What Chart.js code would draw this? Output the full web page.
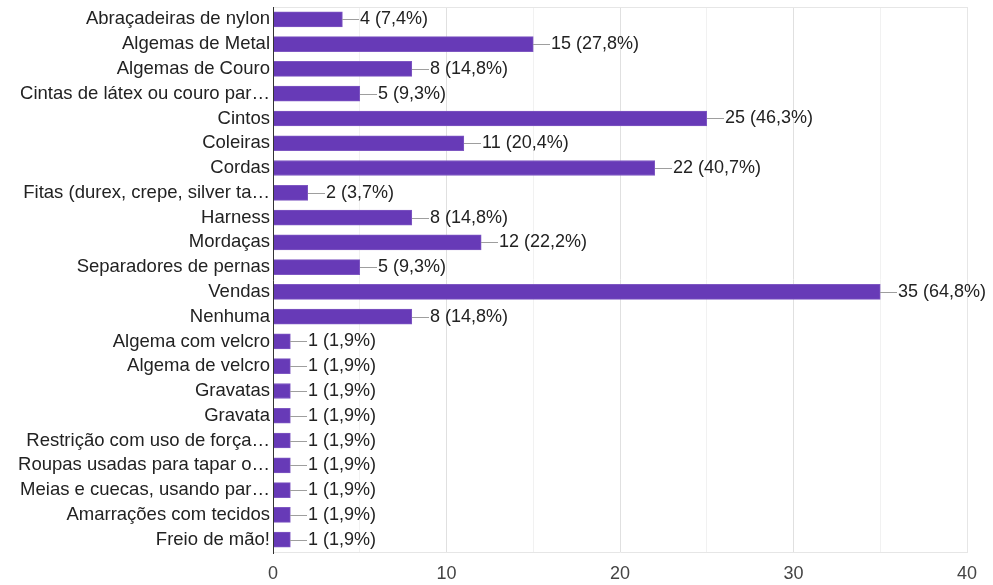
<!DOCTYPE html>
<html>
<head>
<meta charset="utf-8">
<script src="https://cdn.jsdelivr.net/npm/chart.js@4"></script>
<style>
  html, body { margin: 0; padding: 0; background: #fff; }
  #wrap { width: 993px; height: 585px; }
</style>
</head>
<body>
<div id="wrap"><canvas id="c" width="993" height="585"></canvas></div>
<script>
// Answers to the multiple-choice question
const categories = [
  "Abraçadeiras de nylon",
  "Algemas de Metal",
  "Algemas de Couro",
  "Cintas de látex ou couro par…",
  "Cintos",
  "Coleiras",
  "Cordas",
  "Fitas (durex, crepe, silver ta…",
  "Harness",
  "Mordaças",
  "Separadores de pernas",
  "Vendas",
  "Nenhuma",
  "Algema com velcro",
  "Algema de velcro",
  "Gravatas",
  "Gravata",
  "Restrição com uso de força…",
  "Roupas usadas para tapar o…",
  "Meias e cuecas, usando par…",
  "Amarrações com tecidos",
  "Freio de mão!"
];
const counts = [4, 15, 8, 5, 25, 11, 22, 2, 8, 12, 5, 35, 8, 1, 1, 1, 1, 1, 1, 1, 1, 1];
const respondents = 54;
const xTicks = [0, 10, 20, 30, 40];

const FONT = "Arial, 'Liberation Sans', sans-serif";

function valueLabel(v) {
  const pct = (v / respondents * 100).toFixed(1).replace('.', ',');
  return v + ' (' + pct + '%)';
}

// Frame around the plot plus connector lines and value labels after each bar
const annotate = {
  id: 'annotate',
  beforeDatasetsDraw(chart) {
    const { ctx, chartArea: a } = chart;
    ctx.save();
    ctx.strokeStyle = '#e6e6e6';
    ctx.lineWidth = 1;
    ctx.beginPath();
    ctx.moveTo(a.left, a.top + 0.5); ctx.lineTo(a.right + 0.5, a.top + 0.5);
    ctx.moveTo(a.right + 0.5, a.top); ctx.lineTo(a.right + 0.5, a.bottom);
    ctx.stroke();
    ctx.restore();
  },
  afterDatasetsDraw(chart) {
    const { ctx } = chart;
    const meta = chart.getDatasetMeta(0);
    ctx.save();
    ctx.font = '18px ' + FONT;
    ctx.textBaseline = 'middle';
    ctx.fillStyle = '#222';
    meta.data.forEach((bar, i) => {
      const x = Math.round(bar.x), y = Math.round(bar.y) + 0.5;
      ctx.strokeStyle = '#9e9e9e';
      ctx.lineWidth = 1;
      ctx.beginPath();
      ctx.moveTo(x, y); ctx.lineTo(x + 17, y);
      ctx.stroke();
      ctx.fillText(valueLabel(counts[i]), x + 18, y);
    });
    // dark zero axis drawn on top
    const a = chart.chartArea;
    ctx.strokeStyle = '#333';
    ctx.beginPath();
    ctx.moveTo(a.left + 0.5, a.top); ctx.lineTo(a.left + 0.5, a.bottom + 2);
    ctx.stroke();
    ctx.restore();
  }
};

new Chart(document.getElementById('c'), {
  type: 'bar',
  data: {
    labels: categories,
    datasets: [{
      data: counts,
      backgroundColor: '#673ab7',
      borderColor: '#7e57c2',
      borderWidth: 1,
      barThickness: 15
    }]
  },
  options: {
    indexAxis: 'y',
    responsive: false,
    animation: false,
    layout: { padding: { top: 7, right: 26, bottom: 0, left: 0 } },
    plugins: { legend: { display: false }, tooltip: { enabled: false } },
    scales: {
      x: {
        min: xTicks[0],
        max: xTicks[xTicks.length - 1],
        afterBuildTicks(scale) {
          const t = [];
          for (let v = xTicks[0]; v <= xTicks[xTicks.length - 1]; v += 5) t.push({ value: v });
          scale.ticks = t;
        },
        afterFit(scale) { scale.height = 33; },
        grid: {
          drawTicks: false,
          color: c => (c.tick && c.tick.value % 10 === 0) ? '#e0e0e0' : '#f1f1f1'
        },
        border: { display: true, color: '#e6e6e6' },
        ticks: {
          padding: 11,
          font: { size: 18, family: FONT },
          color: '#444',
          maxRotation: 0,
          autoSkip: false,
          callback: v => (xTicks.includes(v) ? String(v) : '')
        }
      },
      y: {
        afterFit(scale) {
          scale.width = 273;
          scale.paddingTop = 0;
          scale.paddingBottom = 0;
        },
        grid: { display: false, drawTicks: false, tickLength: 0 },
        border: { display: false },
        ticks: {
          padding: 3,
          autoSkip: false,
          font: { size: 18.5, family: FONT },
          color: '#222'
        }
      }
    }
  },
  plugins: [annotate]
});
</script>
</body>
</html>
